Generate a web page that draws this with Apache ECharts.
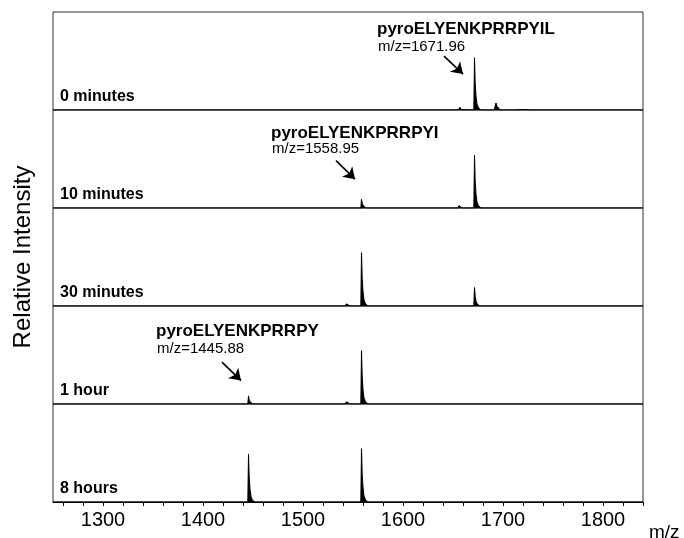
<!DOCTYPE html>
<html>
<head>
<meta charset="utf-8">
<script src="https://cdn.jsdelivr.net/npm/echarts@6/dist/echarts.min.js"></script>
<style>
  html, body { margin: 0; padding: 0; background: #fff; }
  #main { width: 684px; height: 538px; }
</style>
</head>
<body>
<div id="main"></div>
<script>
var chart = echarts.init(document.getElementById("main"))

// panel names, top to bottom
var panelNames = ["0 minutes", "10 minutes", "30 minutes", "1 hour", "8 hours"]

// spectra [m/z, intensity], one array per panel
var spec0min = [[1250,0],[1655,0],[1656,3],[1657,5],[1658,1],[1660,0],
  [1670.8,0],[1671.5,96],[1672.2,50],[1673,26],[1674,11],[1675.5,4],[1678,0],
  [1691,0],[1692,6],[1693,13],[1694,7],[1695.5,3],[1698,0],
  [1713,0],[1714.5,3.5],[1716,1],[1718,0],
  [1729,0],[1730.5,2.5],[1732,0],
  [1738,0],[1739,2],[1740,0],[1840,0]]
var spec10min = [[1250,0],[1557.8,0],[1558.5,16],[1559.2,9],[1560,5],[1561.5,2],[1563,0],
  [1655,0],[1656,4.5],[1657,1],[1659,0],
  [1670.8,0],[1671.5,97],[1672.2,50],[1673,26],[1674,11],[1675.5,4],[1678,0],
  [1840,0]]
var spec30min = [[1250,0],[1542,0],[1543.5,4],[1545,1],[1547,0],
  [1557.8,0],[1558.5,98],[1559.2,52],[1560,27],[1561,11],[1562.5,4],[1565,0],
  [1670.8,0],[1671.5,34],[1672.2,18],[1673,9],[1674.5,3],[1677,0],
  [1840,0]]
var spec1h = [[1250,0],[1444.8,0],[1445.5,15],[1446.2,8],[1447,4],[1448.5,1.5],[1450,0],
  [1542,0],[1543.5,4],[1545,1],[1547,0],
  [1557.8,0],[1558.5,98],[1559.2,52],[1560,27],[1561,11],[1562.5,4],[1565,0],
  [1840,0]]
var spec8h = [[1250,0],[1430,0],[1431.5,2],[1433,0],
  [1444.8,0],[1445.5,88],[1446.2,47],[1447,24],[1448,10],[1449.5,3],[1452,0],
  [1542,0],[1543.5,3],[1545,0],
  [1557.8,0],[1558.5,98],[1559.2,52],[1560,27],[1561,11],[1562.5,4],[1565,0],
  [1840,0]]
var spectra = [spec0min, spec10min, spec30min, spec1h, spec8h]

// axis
var xMin = 1250, xMax = 1840, yMax = 180
var tickValues = [1260,1280,1300,1320,1340,1360,1380,1400,1420,1440,1460,1480,1500,
  1520,1540,1560,1580,1600,1620,1640,1660,1680,1700,1720,1740,1760,1780,1800,1820,1840]
var labelValues = [1300, 1400, 1500, 1600, 1700, 1800]

// arrows: panel index, from [m/z, y], to [m/z, y]
var arrows = [
  [0, [1641, 99], [1660, 66]],
  [1, [1533, 87], [1552, 53]],
  [3, [1419, 77], [1438, 43]]
]
// peak annotations
var peakNames = ["pyroELYENKPRRPYIL", "pyroELYENKPRRPYI", "pyroELYENKPRRPY"]
var peakMasses = ["m/z=1671.96", "m/z=1558.95", "m/z=1445.88"]

var gridLeft = 53, gridWidth = 590, gridTop = 12, gridH = 98

var grids = [], xAxes = [], yAxes = [], series = []
for (i = 0; i < 5; i++) {
  grids.push({
    left: gridLeft, width: gridWidth, top: gridTop + i * gridH, height: gridH,
    show: true, borderColor: "#333", borderWidth: 1
  })
  var last = (i == 4)
  xAxes.push({
    type: "value", gridIndex: i, min: xMin, max: xMax,
    show: last,
    splitLine: { show: false },
    axisLine: { show: last, lineStyle: { color: "#000", width: 1 } },
    axisTick: { show: last, customValues: tickValues, length: 4, lineStyle: { color: "#000" } },
    axisLabel: { show: last, customValues: labelValues, fontSize: 20,
      fontFamily: "Liberation Sans", color: "#000", margin: 8,
      formatter: function (v) { return String(v) } }
  })
  yAxes.push({ type: "value", gridIndex: i, min: 0, max: yMax, show: false })
  var s = {
    type: "line", xAxisIndex: i, yAxisIndex: i,
    data: spectra[i], showSymbol: false, symbol: "none",
    silent: true, animation: false,
    lineStyle: { color: "#000", width: 1 },
    areaStyle: { color: "#000", opacity: 1 }
  }
  var ml = []
  for (j = 0; j < arrows.length; j++) {
    if (arrows[j][0] == i) ml.push([{ coord: arrows[j][1] }, { coord: arrows[j][2] }])
  }
  if (ml.length) {
    s.markLine = {
      silent: true, animation: false,
      symbol: ["none", "arrow"], symbolSize: 11,
      lineStyle: { color: "#000", width: 1.6, type: "solid" },
      label: { show: false },
      data: ml
    }
  }
  series.push(s)
}

var graphics = []
for (i = 0; i < 5; i++) {
  graphics.push({
    type: "text", x: 60, y: gridTop + (i + 1) * gridH - 13,
    style: { text: panelNames[i], font: "bold 16px 'Liberation Sans'", fill: "#000",
      verticalAlign: "middle" }
  })
}
var annoPos = [[377, 29, 47], [271, 133, 149], [156, 331, 349]]
for (i = 0; i < 3; i++) {
  graphics.push({
    type: "text", x: annoPos[i][0], y: annoPos[i][1],
    style: { text: peakNames[i], font: "bold 17px 'Liberation Sans'", fill: "#000", verticalAlign: "middle" }
  })
  graphics.push({
    type: "text", x: annoPos[i][0] + 1, y: annoPos[i][2],
    style: { text: peakMasses[i], font: "15px 'Liberation Sans'", fill: "#000", verticalAlign: "middle" }
  })
}
graphics.push({
  type: "text", x: 23, y: 257, rotation: Math.PI / 2,
  style: { text: "Relative Intensity", font: "24px 'Liberation Sans'", fill: "#000",
    align: "center", verticalAlign: "middle" }
})
graphics.push({
  type: "text", x: 649, y: 533,
  style: { text: "m/z", font: "19px 'Liberation Sans'", fill: "#000", verticalAlign: "middle" }
})

option = {
  backgroundColor: "#fff",
  animation: false,
  grid: grids,
  xAxis: xAxes,
  yAxis: yAxes,
  series: series,
  graphic: graphics
}
chart.setOption(option)
</script>
</body>
</html>
